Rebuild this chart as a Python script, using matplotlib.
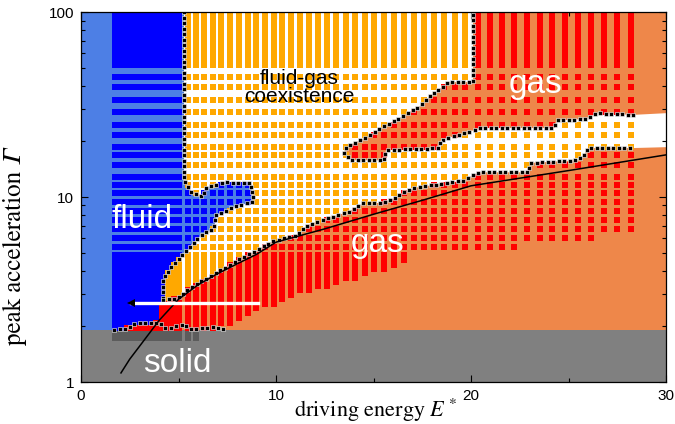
import numpy as np
import matplotlib.pyplot as plt
from matplotlib.path import Path
from matplotlib.patches import Polygon
from matplotlib.ticker import NullFormatter, FixedLocator, FixedFormatter

plt.rcParams["font.family"] = ["Liberation Sans", "DejaVu Sans"]
plt.rcParams["mathtext.fontset"] = "stix"

# phase boundaries in (E*, Gamma)
fluid_coex_E = [5.28, 5.28, 5.64, 6.26, 6.41, 7.33, 8.72, 8.82, 8.05, 6.92, 6.82,
                6.15, 5.64, 5.13, 4.62, 4.21, 4.21]
fluid_coex_G = [100, 12.4, 10.6, 10.1, 11.2, 12.0, 11.9, 9.4, 9.0, 8.0, 6.8,
                6.2, 5.5, 4.8, 4.18, 3.56, 2.77]
fluid_gas_E = [4.21, 4.0, 3.08, 2.41, 1.69]
fluid_gas_G = [2.77, 2.11, 2.03, 1.96, 1.9]

coex_low_E = [4.21, 4.97, 5.64, 6.31, 7.18, 8.05, 9.08, 9.74, 10.62, 10.92, 11.64,
              12.67, 13.69, 14.51, 15.38, 16.15, 16.41, 17.28, 18.82, 19.64, 20.15,
              20.51, 22.92, 23.08, 25.49, 25.79, 26.0, 28.31, 30.0]
coex_low_G = [2.77, 2.84, 3.26, 3.56, 4.03, 4.57, 5.17, 5.71, 6.09, 6.09, 7.06,
              7.69, 8.30, 9.28, 9.28, 9.88, 10.5, 11.3, 11.9, 12.3, 13.2,
              13.6, 13.6, 15.3, 15.8, 16.9, 18.4, 18.4, 18.6]

coex_high_E = [30.0, 28.31, 26.41, 26.05, 25.13, 24.46, 24.21, 20.51, 18.46, 18.31,
               15.64, 15.54, 13.85, 13.49, 13.59, 14.1, 14.62, 15.38, 16.41, 17.44,
               17.85, 18.87, 20.1, 20.1]
coex_high_G = [28.4, 27.8, 28.4, 26.7, 26.1, 26.1, 23.6, 23.6, 20.3, 18.4,
               17.9, 15.8, 15.8, 17.3, 18.4, 19.8, 21.0, 23.6, 27.0, 31.3,
               34.8, 41.8, 41.8, 100]

solid_edge_E = [1.7, 2.4, 2.7, 3.1, 4.0, 4.3, 4.6, 5.3, 5.6, 6.0, 6.8, 7.4]
solid_edge_G = [1.92, 1.94, 2.06, 2.08, 2.1, 1.97, 1.97, 2.05, 1.93, 1.95, 1.98, 1.92]

gas_floor_E = [4.0, 7.0, 8.0, 8.9, 10.6, 12.9, 14.8, 16.5, 16.9, 20.0, 24.0, 28.5]
gas_floor_G = [1.9, 1.95, 2.05, 2.36, 2.88, 3.34, 3.83, 4.4, 4.95, 5.0, 5.6, 6.3]

solid_top = 1.9

# simulation runs
grid_E = [1.75, 2.05, 2.35, 2.65, 2.95, 3.25, 3.55, 3.85, 4.15, 4.45, 4.75, 5.05,
          5.47, 5.9, 6.32, 6.75, 7.18, 7.64, 8.12, 8.55, 8.97, 9.44, 9.88, 10.33,
          10.78, 11.24, 11.7, 12.16, 12.63, 13.1, 13.58, 14.06, 14.55, 15.04, 15.54,
          16.04, 16.55, 17.06, 17.58, 18.1, 18.63, 19.16, 19.7, 20.34, 20.95, 21.6,
          22.22, 22.88, 23.52, 24.16, 24.82, 25.5, 26.15, 26.8, 27.5, 28.2]
grid_G = [1.95, 2.08, 2.22, 2.36, 2.5, 2.65, 2.8, 2.96, 3.13, 3.3, 3.48, 3.67,
          3.87, 4.08, 4.3, 4.55, 4.85, 5.4, 6.0, 6.7, 7.5, 8.4, 9.4, 10.5, 11.6,
          12.9, 14.9, 16.9, 18.7, 21.6, 24.5, 28.9, 33.5, 39.2, 44.7, 51.7, 56,
          60, 64, 68, 72, 76, 80, 84, 88, 92, 96, 99]
solid_G = [1.72, 1.82]
solid_max_E = 6.3

# theory curve and arrow
curve_E = [2.05, 2.5, 3, 4, 5, 6, 7, 8, 9, 10, 12.5, 15, 17.5, 20, 25, 30]
curve_G = [1.12, 1.33, 1.56, 2.15, 2.8, 3.35, 3.85, 4.35, 4.9, 5.7, 6.73, 8.07,
           9.6, 11.5, 13.9, 16.9]
arrow_E = [9.1, 2.55]
arrow_G = 2.67

LIGHT_BLUE = "#4d7fe5"
SALMON = "#ee874a"
GREY = "#808080"
DARK_GREY = "#5c5c5c"
phase_colors = {1: "#0000ff", 2: "#ffa800", 3: "#ff0000", 4: DARK_GREY}


def poly(E, G):
    return np.column_stack([E, G])


def log_path(xy):
    return Path(np.column_stack([xy[:, 0], np.log10(xy[:, 1])]))


def trace(ax, E, G, step=5.5):
    # points every `step` pixels along a boundary polyline
    disp = ax.transData.transform(np.column_stack([E, G]))
    seg = np.diff(disp, axis=0)
    dist = np.concatenate([[0.0], np.cumsum(np.hypot(seg[:, 0], seg[:, 1]))])
    s = np.arange(0.0, dist[-1] + 0.1, step)
    xy = np.column_stack([np.interp(s, dist, disp[:, 0]),
                          np.interp(s, dist, disp[:, 1])])
    return ax.transData.inverted().transform(xy)


fluid_xy = poly([0.0] + fluid_coex_E + fluid_gas_E[1:] + [0.0],
                [100] + fluid_coex_G + fluid_gas_G[1:] + [solid_top])
coex_xy = poly(fluid_coex_E + coex_low_E[1:] + coex_high_E,
               fluid_coex_G + coex_low_G[1:] + coex_high_G)

# classify every run: 0 none, 1 fluid, 2 coexistence, 3 gas, 4 solid
all_G = solid_G + grid_G
EE, GG = np.meshgrid(grid_E, all_G)
lg = np.log10(GG)
pts = np.column_stack([EE.ravel(), lg.ravel()])
in_fluid = log_path(fluid_xy).contains_points(pts).reshape(EE.shape)
in_coex = log_path(coex_xy).contains_points(pts).reshape(EE.shape) & ~in_fluid
diag = np.interp(EE, coex_low_E, np.log10(coex_low_G))
floor = np.interp(EE, gas_floor_E, np.log10(gas_floor_G))
in_gas = ~in_fluid & ~in_coex & (GG >= solid_top) & ((lg >= diag) | (lg >= floor))

phase = np.zeros(EE.shape, dtype=int)
phase[(GG >= solid_top) & in_fluid] = 1
phase[(GG >= solid_top) & in_coex] = 2
phase[in_gas] = 3
phase[(GG < solid_top) & (EE <= solid_max_E)] = 4

fig = plt.figure(figsize=(6.75, 4.24), dpi=100)
ax = fig.add_axes([0.12, 0.099, 0.8667, 0.8726])
ax.set_yscale("log")
ax.set_xlim(0, 30)
ax.set_ylim(1, 100)

ax.axhspan(solid_top, 100, color=SALMON, lw=0, zorder=0)
ax.add_patch(Polygon(coex_xy, closed=True, fc="white", ec="none", zorder=0.5))
ax.add_patch(Polygon(fluid_xy, closed=True, fc=LIGHT_BLUE, ec="none", zorder=0.6))
ax.axhspan(1, solid_top, color=GREY, lw=0, zorder=0.7)

for code, col in phase_colors.items():
    m = phase == code
    ax.scatter(EE[m], GG[m], s=14, marker="s", c=col, linewidths=0, zorder=2)

# phase boundaries as rows of black squares
for bE, bG in [(fluid_coex_E, fluid_coex_G),
               (coex_low_E[:-1], coex_low_G[:-1]),
               (coex_high_E[1:], coex_high_G[1:]),
               (solid_edge_E, solid_edge_G)]:
    b = trace(ax, bE, bG)
    ax.scatter(b[:, 0], b[:, 1], s=12, marker="s", c="black",
               edgecolors="white", linewidths=0.4, zorder=3)

ax.plot(curve_E, curve_G, color="black", lw=1.1, zorder=4)
ax.plot(arrow_E, [arrow_G, arrow_G], color="white", lw=2.4, zorder=5)
ax.plot(arrow_E[1], arrow_G, marker="<", ms=6, color="black", mew=0, zorder=5)

txt = dict(color="white", fontsize=24, ha="center", va="baseline", zorder=6)
ax.text(3.15, 6.8, "fluid", **txt)
ax.text(4.92, 1.13, "solid", **txt)
ax.text(15.2, 5.04, "gas", **txt)
ax.text(23.3, 36.5, "gas", **txt)
ax.text(11.2, 32.6, "fluid-gas\ncoexistence", color="black", fontsize=15,
        ha="center", va="baseline", linespacing=0.95, zorder=6)

ax.set_xticks([0, 10, 20, 30])
ax.set_xticks([5, 15, 25], minor=True)
ax.yaxis.set_major_locator(FixedLocator([1, 10, 100]))
ax.yaxis.set_major_formatter(FixedFormatter(["1", "10", "100"]))
ax.yaxis.set_minor_formatter(NullFormatter())
ax.tick_params(which="both", direction="in", top=True, right=True,
               labelsize=11, width=0.8)
ax.tick_params(which="major", length=5, pad=5)
ax.tick_params(which="minor", length=3)
for s in ax.spines.values():
    s.set_linewidth(0.9)
    s.set_zorder(7)

ax.set_xlabel("driving energy $E^*$", family="STIXGeneral", fontsize=16)
ax.set_ylabel("peak acceleration \U0001D6E4",
              family=["STIXGeneral", "DejaVu Serif", "DejaVu Sans"], fontsize=18)
ax.xaxis.set_label_coords(0.503, -0.04)
ax.yaxis.set_label_coords(-0.092, 0.365)

fig.savefig("out.png", dpi=100)
